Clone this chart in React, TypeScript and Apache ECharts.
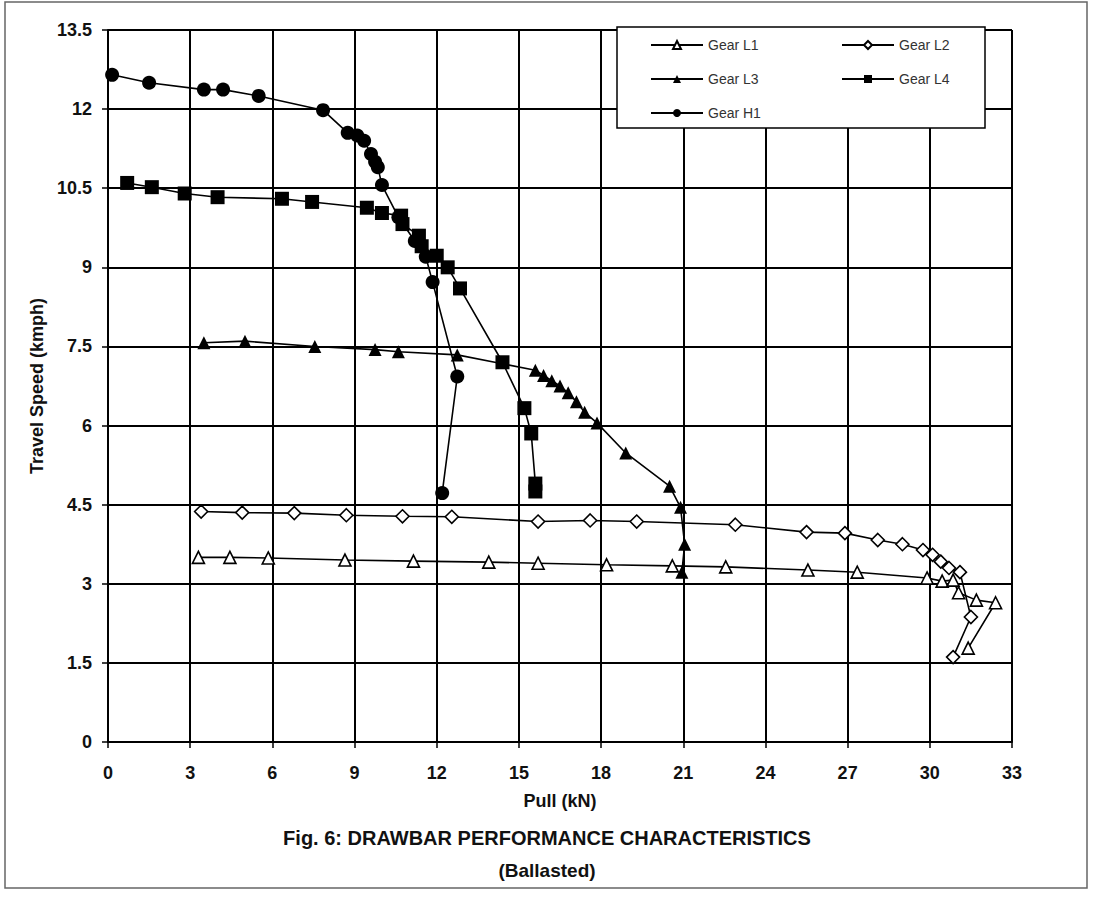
import React, { useEffect, useRef } from "react";
import * as echarts from "echarts";

const xTicks = [0, 3, 6, 9, 12, 15, 18, 21, 24, 27, 30, 33];
const yTicks = [0, 1.5, 3, 4.5, 6, 7.5, 9, 10.5, 12, 13.5];

const seriesNames = ["Gear L1", "Gear L2", "Gear L3", "Gear L4", "Gear H1"];

const l1X = [3.3, 4.45, 5.85, 8.65, 11.15, 13.9, 15.7, 18.2, 20.6, 22.55, 25.55, 27.35, 29.9, 30.45, 30.85, 31.05, 31.7, 32.4, 31.4];
const l1Y = [3.5, 3.5, 3.49, 3.45, 3.43, 3.41, 3.39, 3.36, 3.34, 3.32, 3.26, 3.22, 3.11, 3.05, 3.07, 2.83, 2.69, 2.64, 1.78];

const l2X = [3.4, 4.9, 6.8, 8.7, 10.75, 12.55, 15.7, 17.6, 19.3, 22.9, 25.5, 26.9, 28.1, 29.0, 29.75, 30.1, 30.4, 30.7, 31.1, 31.5, 30.85];
const l2Y = [4.37, 4.35, 4.34, 4.3, 4.28, 4.27, 4.18, 4.2, 4.18, 4.12, 3.98, 3.96, 3.83, 3.75, 3.64, 3.55, 3.42, 3.3, 3.22, 2.37, 1.61];

const l3X = [3.5, 5.0, 7.55, 9.75, 10.6, 12.75, 15.6, 15.9, 16.2, 16.5, 16.8, 17.1, 17.4, 17.85, 18.9, 20.5, 20.9, 21.05, 20.95];
const l3Y = [7.57, 7.6, 7.5, 7.44, 7.4, 7.34, 7.05, 6.95, 6.85, 6.75, 6.62, 6.45, 6.25, 6.05, 5.48, 4.85, 4.45, 3.75, 3.22];

const l4X = [0.7, 1.6, 2.8, 4.0, 6.35, 7.45, 9.45, 10.0, 10.7, 10.75, 11.35, 11.45, 12.0, 12.4, 12.85, 14.4, 15.2, 15.45, 15.6, 15.6];
const l4Y = [10.6, 10.52, 10.4, 10.33, 10.3, 10.24, 10.13, 10.03, 9.98, 9.82, 9.6, 9.4, 9.22, 9.0, 8.6, 7.2, 6.33, 5.85, 4.9, 4.75];

const h1X = [0.15, 1.5, 3.5, 4.2, 5.5, 7.85, 8.75, 9.1, 9.35, 9.6, 9.75, 9.85, 10.0, 10.6, 11.2, 11.6, 11.85, 12.75, 12.2];
const h1Y = [12.65, 12.5, 12.37, 12.37, 12.25, 11.98, 11.55, 11.5, 11.4, 11.15, 11.0, 10.9, 10.56, 9.95, 9.5, 9.2, 8.72, 6.93, 4.72];

const FONT = "'Liberation Sans', Arial, sans-serif";

function pairs(xs: number[], ys: number[]) {
  return xs.map((x, i) => [x, ys[i]]);
}

export default function App() {
  const ref = useRef<HTMLDivElement>(null);
  useEffect(() => {
    if (!ref.current) return;
    const chart = echarts.init(ref.current, null, { renderer: "svg" });
    const lineStyle = { color: "#000", width: 1.6 };
    const mk = (name: string, data: number[][], symbol: string, size: number, hollow: boolean) => ({
      name,
      type: "line",
      data,
      symbol,
      symbolSize: size,
      showAllSymbol: true,
      lineStyle,
      itemStyle: hollow
        ? { color: "#fff", borderColor: "#000", borderWidth: 1.6 }
        : { color: "#000", borderColor: "#000", borderWidth: 0 },
      z: 3,
    });
    const legendCommon = {
      orient: "vertical",
      top: 33,
      itemWidth: 52,
      itemHeight: 10,
      itemGap: 20,
      z: 20,
      textStyle: { color: "#333", fontSize: 14, fontFamily: FONT },
    };
    chart.setOption({
      animation: false,
      backgroundColor: "#fff",
      textStyle: { fontFamily: FONT },
      grid: { left: 108, right: 82, top: 30, bottom: 156, containLabel: false },
      xAxis: {
        type: "value",
        min: xTicks[0],
        max: xTicks[xTicks.length - 1],
        interval: 3,
        name: "Pull (kN)",
        nameLocation: "middle",
        nameGap: 50,
        nameTextStyle: { color: "#111", fontSize: 18, fontWeight: "bold", fontFamily: FONT },
        axisLine: { show: true, lineStyle: { color: "#000", width: 2 } },
        axisTick: { show: true, inside: false, length: 6, lineStyle: { color: "#000", width: 1.5 } },
        axisLabel: { color: "#111", fontSize: 18, fontWeight: "bold", margin: 22, fontFamily: FONT },
        splitLine: { show: true, lineStyle: { color: "#000", width: 2 } },
      },
      yAxis: {
        type: "value",
        min: yTicks[0],
        max: yTicks[yTicks.length - 1],
        interval: 1.5,
        name: "Travel Speed (kmph)",
        nameLocation: "middle",
        nameGap: 62,
        nameRotate: 90,
        nameTextStyle: { color: "#111", fontSize: 18, fontWeight: "bold", fontFamily: FONT },
        axisLine: { show: true, lineStyle: { color: "#000", width: 2 } },
        axisTick: { show: true, inside: false, length: 6, lineStyle: { color: "#000", width: 1.5 } },
        axisLabel: { color: "#111", fontSize: 18, fontWeight: "bold", margin: 16, fontFamily: FONT },
        splitLine: { show: true, lineStyle: { color: "#000", width: 2 } },
      },
      legend: [
        { ...legendCommon, data: [seriesNames[0], seriesNames[2], seriesNames[4]], left: 645 },
        { ...legendCommon, data: [seriesNames[1], seriesNames[3]], left: 836 },
      ],
      graphic: [
        {
          type: "rect",
          shape: { x: 617, y: 27, width: 368, height: 101 },
          style: { fill: "#fff", stroke: "#000", lineWidth: 1.5 },
          z: 10,
        },
        {
          type: "rect",
          shape: { x: 5, y: 2, width: 1082, height: 886 },
          style: { fill: "none", stroke: "#666", lineWidth: 1.5 },
          z: 10,
        },
        {
          type: "text",
          left: "center",
          top: 828,
          style: {
            text: "Fig. 6: DRAWBAR PERFORMANCE CHARACTERISTICS",
            fill: "#111",
            font: "bold 20px " + FONT,
          },
        },
        {
          type: "text",
          left: "center",
          top: 861,
          style: { text: "(Ballasted)", fill: "#111", font: "bold 19px " + FONT },
        },
      ],
      series: [
        mk(seriesNames[0], pairs(l1X, l1Y), "triangle", 12, true),
        mk(seriesNames[1], pairs(l2X, l2Y), "diamond", 13, true),
        mk(seriesNames[2], pairs(l3X, l3Y), "triangle", 13, false),
        mk(seriesNames[3], pairs(l4X, l4Y), "rect", 14, false),
        mk(seriesNames[4], pairs(h1X, h1Y), "circle", 14, false),
      ],
    });
    return () => chart.dispose();
  }, []);
  return (
    <div
      ref={ref}
      style={{ position: "absolute", left: 0, top: 0, width: 1094, height: 898 }}
    />
  );
}
